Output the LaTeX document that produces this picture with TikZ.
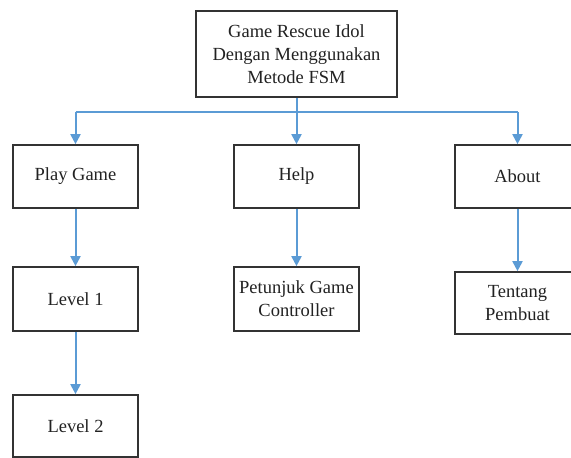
\documentclass[tikz,border=0pt]{standalone}
\usepackage{fontspec}
\setmainfont{Liberation Serif}
\usetikzlibrary{arrows.meta,shadows}
\definecolor{linkblue}{HTML}{5B9BD5}
\definecolor{boxline}{HTML}{333333}
\definecolor{txt}{HTML}{222222}
\tikzset{
  box/.style={draw=boxline, line width=1.7pt, fill=white, rectangle, align=center,
    text=txt, font=\fontsize{18.5}{23}\selectfont, inner sep=0pt,
    drop shadow={opacity=0.15, shadow xshift=1.3pt, shadow yshift=-1.3pt, fill=linkblue}},
  conn/.style={draw=linkblue, line width=2pt},
  arr/.style={conn, -{Triangle[length=10pt,width=10pt]}},
}
\begin{document}
\begin{tikzpicture}[x=1pt,y=-1pt]
\useasboundingbox (0,0) rectangle (571,458);
\clip (0,0) rectangle (571,458);
\node[box, minimum width=201pt, minimum height=86pt] (top) at (296.5,54)
  {Game Rescue Idol\\Dengan Menggunakan\\Metode FSM};
\node[box, minimum width=125pt, minimum height=63pt] (play) at (75.5,176.5) {Play Game};
\node[box, minimum width=125pt, minimum height=63pt] (help) at (296.5,176.5) {Help};
\node[box, minimum width=125pt, minimum height=63pt] (about) at (517.5,176.5) {About};
\node[box, minimum width=125pt, minimum height=64pt] (lvl1) at (75.5,299) {Level 1};
\node[box, minimum width=125pt, minimum height=62pt] (lvl2) at (75.5,426) {Level 2};
\node[box, minimum width=125pt, minimum height=64pt] (petunjuk) at (296.5,299) {Petunjuk Game\\Controller};
\node[box, minimum width=125pt, minimum height=62pt] (tentang) at (517.5,303) {Tentang\\Pembuat};
\coordinate (bar) at (0,112);
\draw[conn] (top.south) -- (top.south |- bar);
\draw[conn] (play.north |- bar) -- (about.north |- bar);
\draw[arr] (play.north |- bar) -- (play.north);
\draw[arr] (help.north |- bar) -- (help.north);
\draw[arr] (about.north |- bar) -- (about.north);
\draw[arr] (play.south) -- (lvl1.north);
\draw[arr] (lvl1.south) -- (lvl2.north);
\draw[arr] (help.south) -- (petunjuk.north);
\draw[arr] (about.south) -- (tentang.north);
\end{tikzpicture}
\end{document}
